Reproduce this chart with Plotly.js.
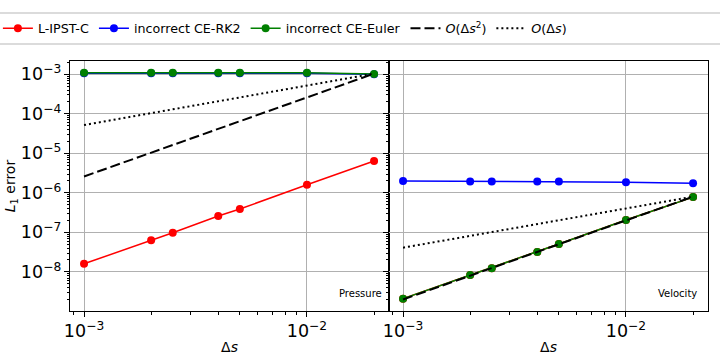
<!DOCTYPE html>
<html>
<head>
<meta charset="utf-8">
<script src="https://cdn.plot.ly/plotly-3.0.1.min.js"></script>
<style>
  body { margin: 0; background: #fff; }
  #grafico { width: 720px; height: 360px; }
</style>
</head>
<body>
<div id="grafico"></div>
<script>
// step sizes
const ds = [0.001, 0.002, 0.0025, 0.004, 0.005, 0.01, 0.02];
const dsEnds = [0.001, 0.02];

// pressure errors
const ipstP = [1.6e-8, 6.3e-8, 9.8e-8, 2.6e-7, 3.9e-7, 1.6e-6, 6.4e-6];
const rk2P = [1.07e-3, 1.07e-3, 1.07e-3, 1.07e-3, 1.07e-3, 1.07e-3, 1.0e-3];
const eulerP = [1.1e-3, 1.1e-3, 1.1e-3, 1.09e-3, 1.09e-3, 1.09e-3, 1.02e-3];
const order2P = [2.6e-6, 1.04e-3];
const order1P = [5.2e-5, 1.04e-3];

// velocity errors
const ipstV = [2.1e-9, 8.3e-9, 1.24e-8, 3.2e-8, 5.1e-8, 2.05e-7, 7.8e-7];
const rk2V = [2.0e-6, 1.95e-6, 1.95e-6, 1.93e-6, 1.93e-6, 1.85e-6, 1.75e-6];
const eulerV = [2.1e-9, 8.3e-9, 1.24e-8, 3.2e-8, 5.1e-8, 2.05e-7, 7.8e-7];
const order2V = [2.0e-9, 8.0e-7];
const order1V = [4.1e-8, 8.0e-7];

const names = ['L-IPST-C', 'incorrect CE-RK2', 'incorrect CE-Euler',
  '<i>O</i>(Δ<i>s</i><sup>2</sup>)', '<i>O</i>(Δ<i>s</i>)'];

function serie(x, y, name, color, ax, legend, dash) {
  const t = {
    x: x, y: y, name: name, type: 'scatter',
    xaxis: ax[0], yaxis: ax[1], showlegend: legend,
    line: { color: color, width: 1.5 },
    mode: 'lines+markers',
    marker: { size: 8, color: color }
  };
  if (dash) {
    t.mode = 'lines';
    t.line = { color: 'black', width: 2, dash: dash };
  }
  return t;
}

const p = ['x', 'y'], v = ['x2', 'y2'];
const data = [
  serie(ds, ipstP, names[0], '#ff0000', p, true),
  serie(ds, rk2P, names[1], '#0000ff', p, true),
  serie(ds, eulerP, names[2], '#008000', p, true),
  serie(dsEnds, order2P, names[3], 'black', p, true, '10px,4px'),
  serie(dsEnds, order1P, names[4], 'black', p, true, '2px,3px'),
  serie(ds, ipstV, names[0], '#ff0000', v, false),
  serie(ds, rk2V, names[1], '#0000ff', v, false),
  serie(ds, eulerV, names[2], '#008000', v, false),
  serie(dsEnds, order2V, names[3], 'black', v, false, '10px,4px'),
  serie(dsEnds, order1V, names[4], 'black', v, false, '2px,3px')
];

const fuente = { family: 'DejaVu Sans', size: 14, color: 'black' };
const eje = {
  type: 'log', dtick: 1, exponentformat: 'power', automargin: true,
  showline: true, linecolor: 'black', linewidth: 1, mirror: true,
  ticks: 'outside', ticklen: 5, tickcolor: 'black',
  showgrid: true, gridcolor: '#b0b0b0', gridwidth: 0.8,
  zeroline: false, tickfont: fuente,
  minor: { ticks: 'outside', ticklen: 2.5, tickcolor: 'black', dtick: 'D1', showgrid: false }
};

const layout = {
  width: 720, height: 360,
  margin: { l: 70, r: 12, t: 61, b: 49, autoexpand: false },
  paper_bgcolor: 'white', plot_bgcolor: 'white',
  font: fuente,
  xaxis: Object.assign({}, eje, { domain: [0, 0.5], range: [-3.063, -1.632], anchor: 'y',
    title: { text: 'Δ<i>s</i>', font: fuente, standoff: 1 } }),
  xaxis2: Object.assign({}, eje, { domain: [0.5, 1], range: [-3.063, -1.632], anchor: 'y2',
    title: { text: 'Δ<i>s</i>', font: fuente, standoff: 1 } }),
  yaxis: Object.assign({}, eje, { range: [-8.99, -2.663], anchor: 'x',
    title: { text: '<i>L</i><sub>1</sub> error', font: fuente, standoff: 1 } }),
  yaxis2: Object.assign({}, eje, { range: [-8.99, -2.663], anchor: 'x2', showticklabels: false }),
  showlegend: true,
  legend: {
    orientation: 'h', x: -0.113, xanchor: 'left', y: 1.19, yanchor: 'top',
    font: { family: 'DejaVu Sans', size: 12.7, color: 'black' },
    bgcolor: 'rgba(0,0,0,0)', borderwidth: 0
  },
  shapes: [{
    type: 'rect', xref: 'paper', yref: 'paper',
    x0: -0.2, x1: 1.2, y0: 1.068, y1: 1.192,
    line: { color: '#d0d0d0', width: 1.5 }
  }],
  annotations: [
    { text: 'Pressure', xref: 'x domain', yref: 'y domain', x: 0.985, y: 0.04,
      xanchor: 'right', yanchor: 'bottom', showarrow: false,
      font: { family: 'DejaVu Sans', size: 10, color: 'black' } },
    { text: 'Velocity', xref: 'x2 domain', yref: 'y2 domain', x: 0.972, y: 0.04,
      xanchor: 'right', yanchor: 'bottom', showarrow: false,
      font: { family: 'DejaVu Sans', size: 10, color: 'black' } }
  ]
};

Plotly.newPlot('grafico', data, layout, { displayModeBar: false });
</script>
</body>
</html>
